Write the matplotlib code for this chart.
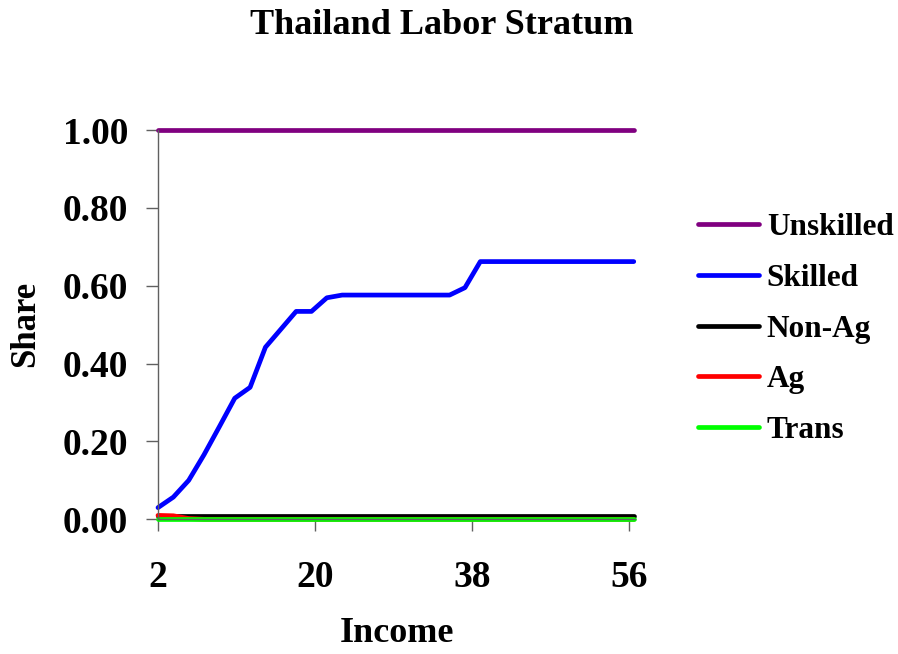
import matplotlib
matplotlib.use("Agg")
import matplotlib.pyplot as plt

plt.rcParams['font.family'] = ['Liberation Serif', 'DejaVu Serif']
plt.rcParams['font.weight'] = 'bold'

# income points
income = [2.0, 3.76, 5.52, 7.28, 9.04, 10.8, 12.56, 14.32, 16.08, 17.84,
          19.6, 21.36, 23.12, 24.88, 26.64, 28.4, 30.16, 31.92, 33.68, 35.44,
          37.2, 38.96, 40.72, 42.48, 44.24, 46.0, 47.76, 49.52, 51.28, 53.04,
          54.8, 56.56]

unskilled = [1.0] * 32
skilled = [0.030, 0.057, 0.100, 0.166, 0.238, 0.311, 0.339, 0.442, 0.488, 0.534,
           0.534, 0.569, 0.576, 0.576, 0.576, 0.576, 0.576, 0.576, 0.576, 0.576,
           0.595, 0.662, 0.662, 0.662, 0.662, 0.662, 0.662, 0.662, 0.662, 0.662,
           0.662, 0.662]
non_ag = [0.008] * 32
ag = [0.010, 0.009, 0.002] + [0.0] * 29
trans = [0.0] * 32

series = [("Unskilled", unskilled, "#800080"),
          ("Skilled", skilled, "#0000ff"),
          ("Non-Ag", non_ag, "#000000"),
          ("Ag", ag, "#ff0000"),
          ("Trans", trans, "#00ff00")]

fig = plt.figure(figsize=(8.98, 6.54), dpi=100)
ax = fig.add_axes([158/898, 1-519.3/654, (635-158)/898, (519.3-130)/654])

for name, vals, col in series:
    ax.plot(income, vals, color=col, lw=3.4, label=name, clip_on=False,
            solid_capstyle='round')

ax.set_xlim(2, 56.7)
ax.set_ylim(0, 1.0)
ax.set_xticks([2, 20, 38, 56])
ax.set_yticks([0, 0.2, 0.4, 0.6, 0.8, 1.0])
ax.set_yticklabels(["%.2f" % v for v in [0, 0.2, 0.4, 0.6, 0.8, 1.0]])

for s in ['top', 'right']:
    ax.spines[s].set_visible(False)
for s in ['left', 'bottom']:
    ax.spines[s].set_color('#606060')
    ax.spines[s].set_linewidth(1)
ax.tick_params(axis='both', direction='out', length=8.6, width=1, color='#606060',
               labelsize=27)
ax.tick_params(axis='y', pad=13)
ax.tick_params(axis='x', pad=21)

fig.text(26/898, 1-324/654, "Share", rotation=90, ha='center', va='center',
         fontsize=25, fontweight='bold')
fig.text(397/898, 1-634/654, "Income", ha='center', va='center',
         fontsize=26, fontweight='bold')
fig.text(442/898, 1-25/654, "Thailand Labor Stratum", ha='center', va='center',
         fontsize=26, fontweight='bold')

leg = fig.legend(loc='center left', bbox_to_anchor=(698/898, 1-329/654),
                 frameon=False, fontsize=22.5, handlelength=1.95, labelspacing=0.70,
                 handletextpad=0.25, borderaxespad=0, borderpad=0)
for t in leg.get_texts():
    t.set_fontweight('bold')

fig.savefig("out.png", dpi=100)
